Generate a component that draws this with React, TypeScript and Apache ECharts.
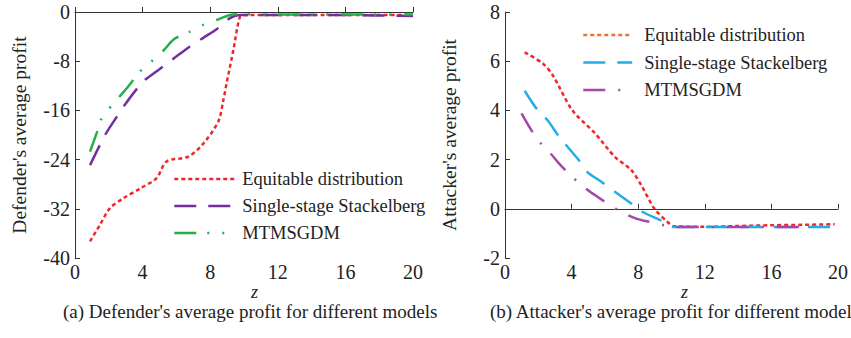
import React, { useEffect, useRef } from "react";
import * as echarts from "echarts";

const FONT = "Liberation Serif";
const TXT = "#222";

const seriesNames = ["Equitable distribution", "Single-stage Stackelberg", "MTMSGDM"];
const xTicks = { min: 0, max: 20, interval: 4 };

// (a) Defender's average profit: [z, profit]
const defEquitable: number[][] = [
  [0.89, -37.3], [1.48, -34.6], [2.07, -31.9], [2.86, -30.3], [3.85, -28.7], [4.83, -27.0],
  [5.42, -24.3], [6.71, -23.5], [7.59, -21.4], [8.48, -17.8], [8.78, -14.3], [8.97, -11.6],
  [9.37, -6.2], [9.76, -0.8], [10.06, -0.5], [12, -0.5], [14, -0.5], [16, -0.5], [18, -0.5], [20, -0.5],
];
const defStackelberg: number[][] = [
  [0.89, -24.9], [1.78, -20.0], [2.46, -17.1], [2.86, -15.4], [4.04, -11.3], [4.9, -9.5], [5.82, -7.6],
  [6.8, -5.6], [7.59, -4.2], [8.38, -2.8], [9.17, -1.0], [9.76, -0.5], [10.06, -0.5],
  [12, -0.5], [14, -0.5], [16, -0.5], [18, -0.55], [20, -0.65],
];
const defMTMSGDM: number[][] = [
  [0.89, -22.7], [1.28, -19.7], [1.58, -17.3], [2.56, -14.0], [3.06, -12.4], [3.94, -9.4],
  [4.54, -8.0], [5.22, -6.3], [5.87, -4.4], [6.8, -3.2], [7.59, -2.1], [8.38, -1.3], [9.17, -0.5],
  [9.76, -0.35], [12, -0.4], [14, -0.4], [16, -0.4], [18, -0.4], [20, -0.4],
];

// (b) Attacker's average profit: [z, profit]
const attEquitable: number[][] = [
  [1.18, 6.36], [2.27, 5.91], [2.86, 5.44], [4.04, 4.01], [5.42, 3.06], [6.6, 2.11], [7.59, 1.57],
  [8.18, 0.96], [8.97, 0.01], [9.75, -0.53], [10.15, -0.71], [12, -0.73], [14, -0.7], [16, -0.67],
  [18, -0.65], [19.8, -0.63],
];
const attStackelberg: number[][] = [
  [1.18, 4.8], [1.97, 4.0], [2.56, 3.6], [3.25, 2.93], [4.43, 1.98], [4.93, 1.5], [5.81, 1.09],
  [6.6, 0.69], [7.59, 0.21], [8.28, -0.13], [9.36, -0.47], [10.15, -0.74], [12, -0.74], [14, -0.74],
  [16, -0.74], [18, -0.74], [19.6, -0.74],
];
const attMTMSGDM: number[][] = [
  [0.99, 3.88], [1.58, 3.2], [2.07, 2.72], [2.66, 2.31], [3.25, 1.84], [4.04, 1.3], [4.73, 0.89],
  [5.42, 0.55], [6.01, 0.28], [6.99, -0.13], [7.88, -0.4], [8.67, -0.53], [9.56, -0.67],
  [10.05, -0.74], [12, -0.74], [14, -0.74], [16, -0.74], [18, -0.74],
];

const DOT = [4, 3];
const DASH = [22, 12];
const DASHDOTDOT = [22, 11, 2, 13, 2, 13];
const DASHDOT = [22, 13, 2, 13];

function axisCommon(margin: number) {
  return {
    axisLine: { show: true, lineStyle: { color: "#333", width: 1 } },
    axisTick: { show: true, inside: true, length: 5, lineStyle: { color: "#333" } },
    splitLine: { show: false },
    axisLabel: { fontFamily: FONT, fontSize: 20, color: TXT, margin },
  };
}

function lineSeries(name: string, data: number[][], color: string, dash: number[]) {
  return {
    type: "line",
    name,
    data,
    smooth: 0.3,
    symbol: "none",
    lineStyle: { color, width: 2.5, type: dash },
    itemStyle: { color },
  };
}

function buildOption(panel: "a" | "b"): any {
  const isA = panel === "a";
  const gridLeft = isA ? 75 : 505;
  const colors = isA ? ["#f0262a", "#7030a0", "#22b04a"] : ["#f0262a", "#22ade8", "#a646a6"];
  const data = isA ? [defEquitable, defStackelberg, defMTMSGDM] : [attEquitable, attStackelberg, attMTMSGDM];
  const dashes = isA ? [DOT, DASH, DASHDOTDOT] : [DOT, DASH, DASHDOT];
  const legendColors = isA ? colors : ["#f07030", colors[1], colors[2]];
  return {
    animation: false,
    grid: { left: gridLeft, top: 12, width: 338, height: 246, containLabel: false },
    xAxis: {
      type: "value",
      ...xTicks,
      ...axisCommon(4),
    },
    yAxis: {
      type: "value",
      min: isA ? -40 : -2,
      max: isA ? 0 : 8,
      interval: isA ? 8 : 2,
      name: isA ? "Defender's average profit" : "Attacker's average profit",
      nameLocation: "middle",
      nameGap: 46,
      nameTextStyle: { fontFamily: FONT, fontSize: 19.5, color: TXT },
      ...axisCommon(5),
    },
    legend: {
      orient: "vertical",
      left: isA ? 173 : 582,
      top: isA ? 169 : 25,
      padding: 0,
      itemWidth: isA ? 60 : 49,
      itemHeight: 20,
      itemGap: isA ? 7 : 7.5,
      selectedMode: false,
      itemStyle: { opacity: 0 },
      textStyle: {
        fontFamily: FONT,
        fontSize: 18.5,
        lineHeight: 20,
        color: TXT,
        padding: [0, 0, 0, isA ? 3 : 7],
      },
      data: seriesNames.map((n, i) => ({
        name: n,
        itemStyle: { color: legendColors[i], opacity: 0 },
        lineStyle: { color: legendColors[i], width: 2.5, type: dashes[i] },
      })),
    },
    graphic: [
      {
        type: "text",
        left: isA ? 251 : 681,
        top: 283,
        style: { text: "z", fontFamily: FONT, fontSize: 18, fontStyle: "italic", fill: TXT },
      },
      {
        type: "text",
        left: isA ? 63 : 490,
        top: 302,
        style: {
          text: isA
            ? "(a) Defender's average profit for different models"
            : "(b) Attacker's average profit for different model",
          fontFamily: FONT,
          fontSize: 19,
          fill: TXT,
        },
      },
    ],
    series: seriesNames.map((n, i) => lineSeries(n, data[i], colors[i], dashes[i])),
  };
}

function Panel({ panel }: { panel: "a" | "b" }) {
  const ref = useRef<HTMLDivElement>(null);
  useEffect(() => {
    if (!ref.current) return;
    const chart = echarts.init(ref.current, undefined, { renderer: "svg" });
    chart.setOption(buildOption(panel));
    return () => chart.dispose();
  }, [panel]);
  return (
    <div
      ref={ref}
      style={{ position: "absolute", left: 0, top: 0, width: 851, height: 338 }}
    />
  );
}

export default function App() {
  return (
    <div style={{ position: "fixed", left: 0, top: 0, width: 851, height: 338, background: "#fff" }}>
      <Panel panel="a" />
      <Panel panel="b" />
    </div>
  );
}
